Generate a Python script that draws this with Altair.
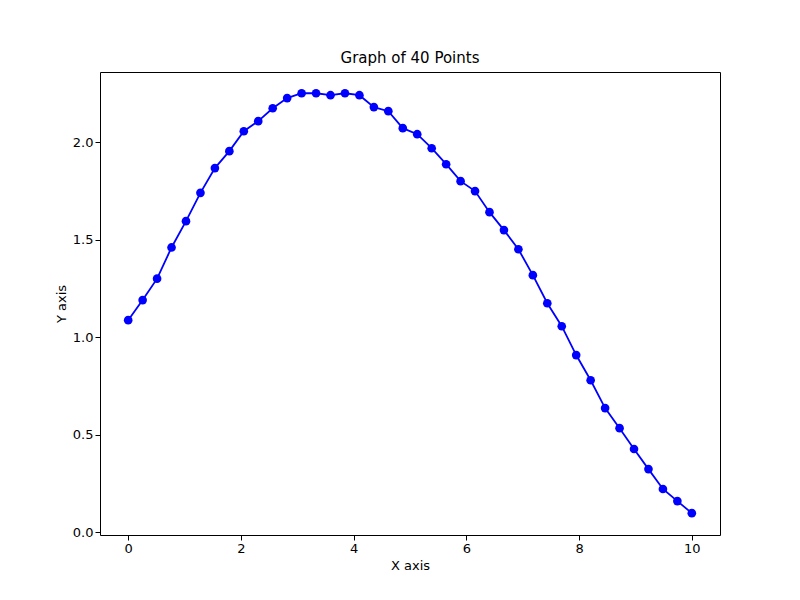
import numpy as np
import pandas as pd
import altair as alt

x_vals = list(np.linspace(0, 10, 40))
y_vals = [1.087, 1.19, 1.30, 1.46, 1.595, 1.74, 1.867, 1.954, 2.056, 2.108,
          2.174, 2.226, 2.251, 2.251, 2.241, 2.251, 2.241, 2.18, 2.159, 2.072,
          2.041, 1.969, 1.887, 1.80, 1.749, 1.641, 1.549, 1.451, 1.318, 1.174,
          1.056, 0.908, 0.779, 0.636, 0.533, 0.426, 0.323, 0.221, 0.159, 0.097]

df = pd.DataFrame({"x": x_vals, "y": y_vals})
_FONT = "DejaVu Sans"


def _axis(values, fmt, title):
    return alt.Axis(values=values, format=fmt, title=title, grid=False, domain=False,
                    tickColor="black", tickSize=5, labelFont=_FONT, labelFontSize=13,
                    labelColor="black", titleFont=_FONT, titleFontSize=13,
                    titleFontWeight="normal", titleColor="black")


base = alt.Chart(df).encode(
    x=alt.X("x:Q", scale=alt.Scale(domain=[-0.5, 10.5], nice=False, zero=False),
            axis=_axis([0, 2, 4, 6, 8, 10], "d", "X axis")),
    y=alt.Y("y:Q", scale=alt.Scale(domain=[-0.015, 2.36], nice=False, zero=False),
            axis=_axis([0, 0.5, 1.0, 1.5, 2.0], ".1f", "Y axis")),
)
line = base.mark_line(color="blue", strokeWidth=1.8)
pts = base.mark_circle(color="blue", size=75, opacity=1)

chart = (line + pts).properties(
    width=620, height=463,
    background="white",
    title=alt.TitleParams("Graph of 40 Points", fontSize=15, font=_FONT,
                          fontWeight="normal", offset=6),
    autosize=alt.AutoSizeParams(type="none"),
    padding={"left": 92, "top": 64, "right": 72, "bottom": 57},
).configure_view(stroke="black", strokeWidth=1)

chart.save("out.html", embed_options={"renderer": "svg", "actions": False})
